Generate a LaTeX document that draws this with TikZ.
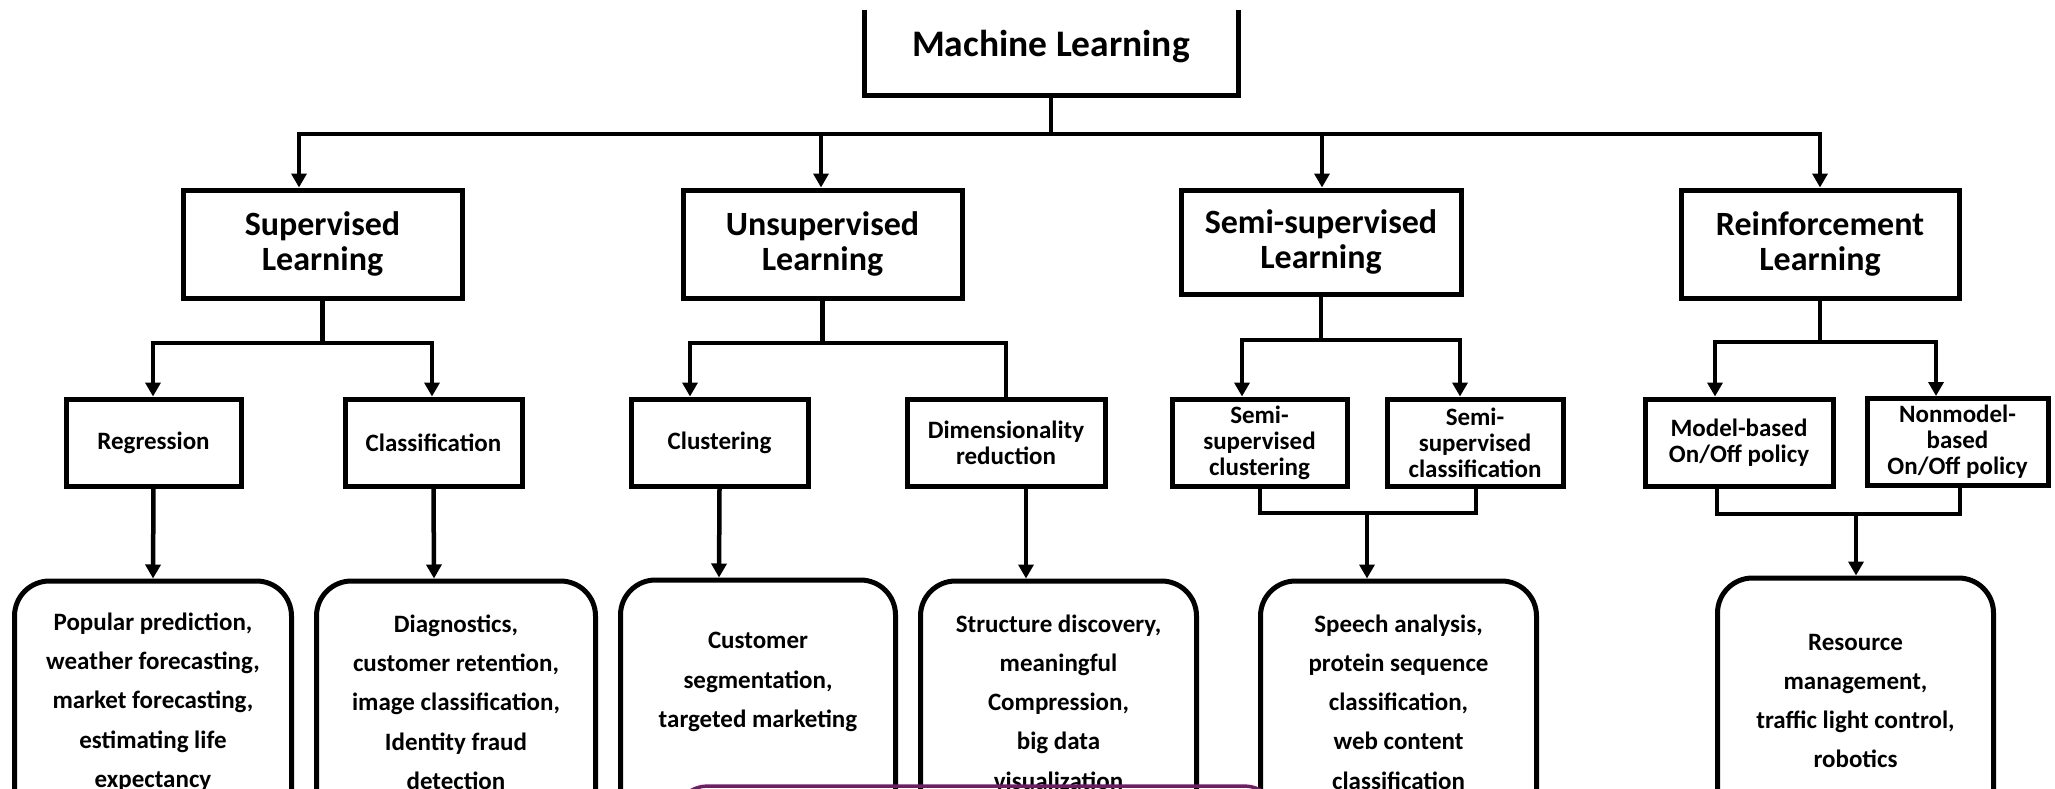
\documentclass[tikz,border=0pt]{standalone}
\usepackage{fontspec}
\setmainfont{Carlito}
\usetikzlibrary{arrows.meta}
\definecolor{artpurple}{RGB}{110,30,100}
\begin{document}
\begin{tikzpicture}[x=1pt,y=-1pt,
  box/.style={draw,line width=5pt,inner sep=0pt,align=center,font=\bfseries\fontsize{25}{26}\selectfont},
  topbox/.style={box,font=\bfseries\fontsize{37.5}{39}\selectfont},
  bigbox/.style={box,font=\bfseries\fontsize{34}{35}\selectfont,minimum height=108pt},
  midbox/.style={box,minimum height=87pt},
  leaf/.style={draw,line width=5pt,rounded corners=35pt,minimum height=260pt,inner sep=0pt},
  leaftext/.style={align=center,inner sep=0pt,font=\bfseries\fontsize{25}{39.3}\selectfont},
  conn/.style={line width=4.5pt,line cap=rect},
  arr/.style={line width=4.5pt,-{Triangle[length=14pt,width=15pt]}}]
\useasboundingbox (0,0) rectangle (2055,788);
\clip (0,10) rectangle (2055,788);

% top
\node[topbox,minimum width=374pt,minimum height=96pt] (ml) at (1051,47) {Machine Learning};

% level 2
\node[bigbox,minimum width=279pt] (sup) at (322.5,244) {Supervised\\Learning};
\node[bigbox,minimum width=279pt] (uns) at (822.5,244) {Unsupervised\\Learning};
\node[bigbox,minimum width=280pt,minimum height=104pt] (semi) at (1321,242) {Semi-supervised\\Learning};
\node[bigbox,minimum width=278pt] (rein) at (1820,244) {Reinforcement\\Learning};

% level 3
\node[midbox,minimum width=175pt] (reg) at (153.5,442.5) {Regression};
\node[midbox,minimum width=177pt] (cls) at (433.5,442.5) {Classification};
\node[midbox,minimum width=177pt] (clu) at (719.5,442.5) {Clustering};
\node[midbox,minimum width=198pt] (dim) at (1006,442.5) {Dimensionality\\reduction};
\node[midbox,minimum width=175pt] (ssc) at (1259.5,442.5) {Semi-\\supervised\\clustering};
\node[midbox,minimum width=176pt] (sscl) at (1475,442.5) {Semi-\\supervised\\classification};
\node[midbox,minimum width=188pt] (mb) at (1739,442.5) {Model-based\\On/Off policy};
\node[midbox,minimum width=181pt] (nmb) at (1957.5,442) {Nonmodel-\\based\\On/Off policy};

% leaves
\node[leaf,minimum width=277pt] (l1) at (153,711) {};
\node[leaf,minimum width=279pt] (l2) at (456,711) {};
\node[leaf,minimum width=275pt] (l3) at (758,710) {};
\node[leaf,minimum width=276pt] (l4) at (1058.5,711) {};
\node[leaf,minimum width=276pt] (l5) at (1398.5,711) {};
\node[leaf,minimum width=276pt] (l6) at (1855.5,708) {};

\node[leaftext] (t1) at (153,702) {Popular prediction,\\weather forecasting,\\market forecasting,\\estimating life\\expectancy};
\node[leaftext] (t2) at (456,702) {Diagnostics,\\customer retention,\\image classification,\\Identity fraud\\detection};
\node[leaftext] (t3) at (758,682) {Customer\\segmentation,\\targeted marketing};
\node[leaftext] (t4) at (1058.5,702) {Structure discovery,\\meaningful\\Compression,\\big data\\visualization};
\node[leaftext] (t5) at (1398.5,702) {Speech analysis,\\protein sequence\\classification,\\web content\\classification};
\node[leaftext] (t6) at (1855.5,701) {Resource\\management,\\traffic light control,\\robotics};

% level 1 -> 2
\coordinate (m0) at (1051,134);
\coordinate (mA) at (299,134);
\coordinate (mB) at (821,134);
\coordinate (mC) at (1322,134);
\coordinate (mD) at (1820,134);
\draw[conn] (ml.south) -- (m0);
\draw[conn] (mA) -- (mD);
\draw[arr] (mA) -- (mA |- sup.north);
\draw[arr] (mB) -- (mB |- uns.north);
\draw[arr] (mC) -- (mC |- semi.north);
\draw[arr] (mD) -- (mD |- rein.north);

% level 2 -> 3
\coordinate (sJ) at (322.5,343);
\coordinate (sL) at (153,343);
\coordinate (sR) at (432,343);
\draw[conn] (sup.south) -- (sJ);
\draw[conn] (sL) -- (sR);
\draw[arr] (sL) -- (sL |- reg.north);
\draw[arr] (sR) -- (sR |- cls.north);

\coordinate (uJ) at (822.5,343);
\coordinate (uL) at (690,343);
\coordinate (uR) at (1006,343);
\draw[conn] (uns.south) -- (uJ);
\draw[conn] (uL) -- (uR);
\draw[arr] (uL) -- (uL |- clu.north);
\draw[conn] (uR) -- (dim.north);

\coordinate (eJ) at (1321,340);
\coordinate (eL) at (1242,340);
\coordinate (eR) at (1460,340);
\draw[conn] (semi.south) -- (eJ);
\draw[conn] (eL) -- (eR);
\draw[arr] (eL) -- (eL |- ssc.north);
\draw[arr] (eR) -- (eR |- sscl.north);

\coordinate (rJ) at (1820,342);
\coordinate (rL) at (1715,342);
\coordinate (rR) at (1936,342);
\draw[conn] (rein.south) -- (rJ);
\draw[conn] (rL) -- (rR);
\draw[arr] (rL) -- (rL |- mb.north);
\draw[arr] (rR) -- (rR |- nmb.north);

% level 3 -> leaves
\coordinate (d1) at (153,488);
\coordinate (d2) at (434,488);
\coordinate (d3) at (719,488);
\coordinate (d4) at (1026,488);
\draw[arr] (reg.south) -- (d1 |- l1.north);
\draw[arr] (cls.south) -- (d2 |- l2.north);
\draw[arr] (clu.south) -- (d3 |- l3.north);
\draw[arr] (d4 |- dim.south) -- (d4 |- l4.north);

\coordinate (eb1) at (1260,513);
\coordinate (eb2) at (1476,513);
\coordinate (eM) at (1367,513);
\draw[conn] (eb1 |- ssc.south) -- (eb1) -- (eb2) -- (eb2 |- sscl.south);
\draw[arr] (eM) -- (eM |- l5.north);

\coordinate (rb1) at (1717,514);
\coordinate (rb2) at (1960,514);
\coordinate (rM) at (1856,514);
\draw[conn] (rb1 |- mb.south) -- (rb1) -- (rb2) -- (rb2 |- nmb.south);
\draw[arr] (rM) -- (rM |- l6.north);

% bottom artifact stroke
\draw[line width=3.5pt,artpurple] (690,791) .. controls (700,786) .. (720,786) -- (1232,786) .. controls (1252,786) .. (1262,791);
\end{tikzpicture}
\end{document}
